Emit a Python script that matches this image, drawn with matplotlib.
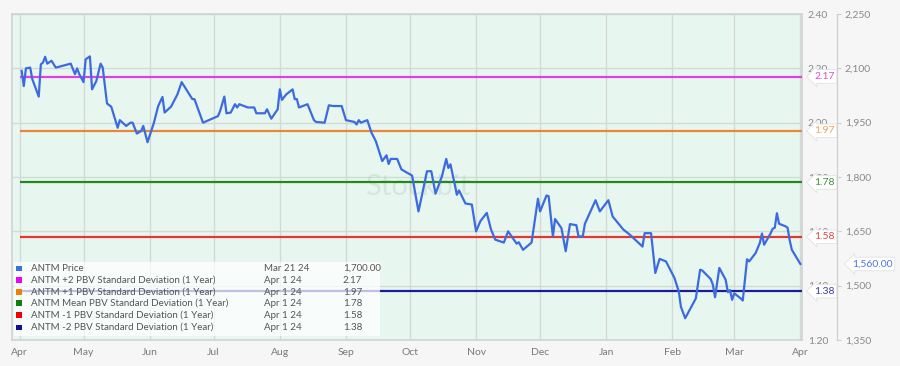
import matplotlib
matplotlib.use("Agg")
import numpy as np
import pandas as pd
import matplotlib.pyplot as plt
import matplotlib.dates as mdates
from matplotlib.ticker import FormatStrFormatter, FuncFormatter
from matplotlib.patches import Rectangle

plt.rcParams['font.family'] = ['Lato', 'DejaVu Sans']

# --- ANTM price ---
dates = [
    "2023-04-02", "2023-04-03", "2023-04-04", "2023-04-06", "2023-04-07", "2023-04-10",
    "2023-04-11", "2023-04-12", "2023-04-13", "2023-04-14", "2023-04-16", "2023-04-18",
    "2023-04-25", "2023-04-27", "2023-04-28", "2023-04-29", "2023-05-01", "2023-05-02",
    "2023-05-04", "2023-05-05", "2023-05-07", "2023-05-09", "2023-05-10", "2023-05-12",
    "2023-05-14", "2023-05-17", "2023-05-18", "2023-05-21", "2023-05-23", "2023-05-24",
    "2023-05-26", "2023-05-28", "2023-05-29", "2023-05-31", "2023-06-03", "2023-06-05",
    "2023-06-07", "2023-06-08", "2023-06-11", "2023-06-14", "2023-06-16", "2023-06-21",
    "2023-06-22", "2023-06-26", "2023-07-03", "2023-07-04", "2023-07-06", "2023-07-07",
    "2023-07-09", "2023-07-11", "2023-07-12", "2023-07-13", "2023-07-17", "2023-07-20",
    "2023-07-21", "2023-07-25", "2023-07-26", "2023-07-28", "2023-07-31", "2023-08-01",
    "2023-08-02", "2023-08-04", "2023-08-07", "2023-08-08", "2023-08-09", "2023-08-10",
    "2023-08-14", "2023-08-17", "2023-08-18", "2023-08-22", "2023-08-24", "2023-08-26",
    "2023-08-30", "2023-09-01", "2023-09-05", "2023-09-06", "2023-09-07", "2023-09-08",
    "2023-09-11", "2023-09-13", "2023-09-15", "2023-09-18", "2023-09-20", "2023-09-21",
    "2023-09-22", "2023-09-25", "2023-09-27", "2023-10-02", "2023-10-05", "2023-10-09",
    "2023-10-11", "2023-10-13", "2023-10-16", "2023-10-18", "2023-10-19", "2023-10-20",
    "2023-10-23", "2023-10-24", "2023-10-27", "2023-10-30", "2023-11-01", "2023-11-03",
    "2023-11-06", "2023-11-08", "2023-11-10", "2023-11-14", "2023-11-16", "2023-11-20",
    "2023-11-21", "2023-11-23", "2023-11-27", "2023-11-30", "2023-12-01", "2023-12-04",
    "2023-12-05", "2023-12-07", "2023-12-08", "2023-12-11", "2023-12-13", "2023-12-15",
    "2023-12-18", "2023-12-19", "2023-12-21", "2023-12-22", "2023-12-27", "2023-12-29",
    "2024-01-02", "2024-01-04", "2024-01-09", "2024-01-12", "2024-01-18", "2024-01-19",
    "2024-01-22", "2024-01-24", "2024-01-26", "2024-01-29", "2024-01-31", "2024-02-02",
    "2024-02-04", "2024-02-05", "2024-02-07", "2024-02-12", "2024-02-14", "2024-02-15",
    "2024-02-17", "2024-02-19", "2024-02-20", "2024-02-21", "2024-02-23", "2024-02-26",
    "2024-02-27", "2024-02-28", "2024-02-29", "2024-03-01", "2024-03-04", "2024-03-05",
    "2024-03-07", "2024-03-08", "2024-03-11", "2024-03-13", "2024-03-14", "2024-03-15",
    "2024-03-18", "2024-03-19", "2024-03-20", "2024-03-21", "2024-03-22", "2024-03-25",
    "2024-03-26", "2024-03-27", "2024-03-28", "2024-04-01",
]
prices = [
    2093, 2051, 2100, 2102, 2070, 2022,
    2111, 2116, 2132, 2113, 2121, 2102,
    2113, 2084, 2100, 2084, 2062, 2125,
    2133, 2042, 2065, 2113, 2102, 2003,
    1994, 1936, 1957, 1941, 1950, 1950,
    1920, 1927, 1941, 1896, 1950, 1996,
    2021, 1978, 1994, 2028, 2062, 2015,
    2015, 1950, 1968, 1982, 2022, 1976,
    1978, 2001, 1992, 2001, 1992, 1992,
    1976, 1976, 1987, 1961, 1987, 2042,
    2013, 2028, 2042, 2015, 2015, 1992,
    2001, 1957, 1952, 1950, 1998, 1996,
    1996, 1957, 1952, 1945, 1957, 1950,
    1957, 1922, 1899, 1844, 1860, 1836,
    1850, 1850, 1821, 1804, 1705, 1816,
    1816, 1754, 1802, 1850, 1825, 1835,
    1751, 1763, 1727, 1724, 1650, 1678,
    1701, 1655, 1627, 1619, 1650, 1616,
    1620, 1599, 1619, 1740, 1705, 1749,
    1747, 1636, 1684, 1659, 1595, 1670,
    1667, 1636, 1636, 1671, 1736, 1705,
    1736, 1691, 1655, 1641, 1608, 1645,
    1645, 1535, 1574, 1567, 1544, 1521,
    1484, 1442, 1410, 1465, 1544, 1542,
    1530, 1518, 1502, 1468, 1549, 1516,
    1482, 1488, 1461, 1479, 1465, 1459,
    1573, 1567, 1590, 1618, 1644, 1613,
    1644, 1657, 1660, 1700, 1671, 1664,
    1660, 1625, 1599, 1560,
]

# --- PBV standard deviation bands ---
level_names = [
    "ANTM +2 PBV Standard Deviation (1 Year)",
    "ANTM +1 PBV Standard Deviation (1 Year)",
    "ANTM Mean PBV Standard Deviation (1 Year)",
    "ANTM -1 PBV Standard Deviation (1 Year)",
    "ANTM -2 PBV Standard Deviation (1 Year)",
]
level_values = [2.17, 1.97, 1.78, 1.58, 1.38]
level_start = "2023-04-01"

legend_names = ["ANTM Price"] + level_names
legend_dates = ["Mar 21 24", "Apr 1 24", "Apr 1 24", "Apr 1 24", "Apr 1 24", "Apr 1 24"]
legend_values = ["1,700.00", "2.17", "1.97", "1.78", "1.58", "1.38"]

pbv_ticks = [1.20, 1.40, 1.60, 1.80, 2.00, 2.20, 2.40]
price_ticks = [1350, 1500, 1650, 1800, 1950, 2100, 2250]

# colours
price_color = "#3c6be0"
line_colors = ["#e23fe2", "#e8863a", "#1f8a1f", "#e83535", "#1c1c99"]
tag_colors = ["#d84ed8", "#f0a060", "#3f8f3f", "#e04545", "#3a3aa0"]
square_colors = ["#3b6fe6", "#f000f0", "#f08000", "#108010", "#f00000", "#101090"]

# --- figure ---
fig = plt.figure(figsize=(9, 3.66), dpi=100, facecolor="#f6f6f6")
ax = fig.add_axes([0.013, 0.071, 0.878, 0.8907])
ax.set_facecolor("#e7f7f0")
ax2 = ax.twinx()

x = pd.to_datetime(dates)
ax.set_xlim(pd.Timestamp("2023-03-28 08:00"), pd.Timestamp("2024-04-01 17:00"))
ax.set_ylim(pbv_ticks[0], pbv_ticks[-1])

ax.xaxis.set_major_locator(mdates.MonthLocator())
ax.xaxis.set_major_formatter(mdates.DateFormatter("%b"))
ax.tick_params(axis="x", length=0, pad=6, labelsize=7.5, labelcolor="#7a7a7a")

# PBV axis labels sit right next to the plot (twinx moved them left, put them back)
ax.set_yticks(pbv_ticks)
ax.yaxis.tick_right()
ax.yaxis.set_label_position("right")
ax.yaxis.set_major_formatter(FormatStrFormatter("%.2f"))
ax.tick_params(axis="y", length=0, pad=4.3, labelsize=7.5, labelcolor="#8a8a8a")

ax.grid(True, color="#d3d9d5", lw=1)
ax.set_axisbelow(True)
for s in ax.spines.values():
    s.set_color("#d0d4d1")
    s.set_linewidth(1.2)

# watermark
ax.text(0.514, 0.47, "Stockbit", transform=ax.transAxes, fontsize=21,
        color="#b9c5bf", alpha=0.35, ha="center", va="center", zorder=1)

# band lines
for v, c in zip(level_values, line_colors):
    ax.hlines(v, pd.Timestamp(level_start), ax.get_xlim()[1], color=c, lw=1.6, zorder=3)

# band tags on the right
for v, c in zip(level_values, tag_colors):
    ax.annotate(f"{v:.2f}", xy=(1, v), xycoords=("axes fraction", "data"),
                xytext=(8.8, 0), textcoords="offset points", ha="left", va="center",
                fontsize=7.5, color=c, zorder=10, annotation_clip=False,
                bbox=dict(boxstyle="larrow,pad=0.22", fc="white", ec="#e2e2e2", lw=0.6))

# price axis
ax2.set_ylim(price_ticks[0], price_ticks[-1])
ax2.set_yticks(price_ticks)
ax2.yaxis.set_major_formatter(FuncFormatter(lambda v, p: f"{v:,.0f}"))
for side in ["top", "left", "bottom"]:
    ax2.spines[side].set_visible(False)
ax2.spines["right"].set_position(("outward", 25))
ax2.spines["right"].set_color("#cfcfcf")
ax2.spines["right"].set_linewidth(0.9)
ax2.tick_params(axis="y", length=3, width=0.8, color="#cfcfcf", pad=3,
                labelsize=7.5, labelcolor="#8a8a8a")

ax2.plot(x, prices, color=price_color, lw=1.6, zorder=4)

ax2.annotate(f"{prices[-1]:,.2f}", xy=(1, prices[-1]), xycoords=("axes fraction", "data"),
             xytext=(36, 0), textcoords="offset points", ha="left", va="center",
             fontsize=7.5, color="#4d73dc", zorder=10, annotation_clip=False,
             bbox=dict(boxstyle="larrow,pad=0.22", fc="white", ec="#e2e2e2", lw=0.6))

# legend box (three columns: name, date, value)
ax2.add_patch(Rectangle((0.003, 0.012), 0.463, 0.228, transform=ax2.transAxes,
                        fc="white", ec="none", alpha=0.72, zorder=20))
row_y = [0.220, 0.184, 0.147, 0.113, 0.076, 0.039]
for y, name, d, val, c in zip(row_y, legend_names, legend_dates, legend_values, square_colors):
    ax2.add_patch(Rectangle((0.0055, y - 0.0085), 0.0072, 0.017, transform=ax2.transAxes,
                            fc=c, ec="none", zorder=21))
    ax2.text(0.024, y, name, transform=ax2.transAxes, fontsize=7, color="#555555",
             va="center", ha="left", zorder=22)
    ax2.text(0.319, y, d, transform=ax2.transAxes, fontsize=7, color="#555555",
             va="center", ha="left", zorder=22)
    ax2.text(0.419, y, val, transform=ax2.transAxes, fontsize=7, color="#555555",
             va="center", ha="left", zorder=22)

fig.savefig("out.png", dpi=100, facecolor=fig.get_facecolor())
